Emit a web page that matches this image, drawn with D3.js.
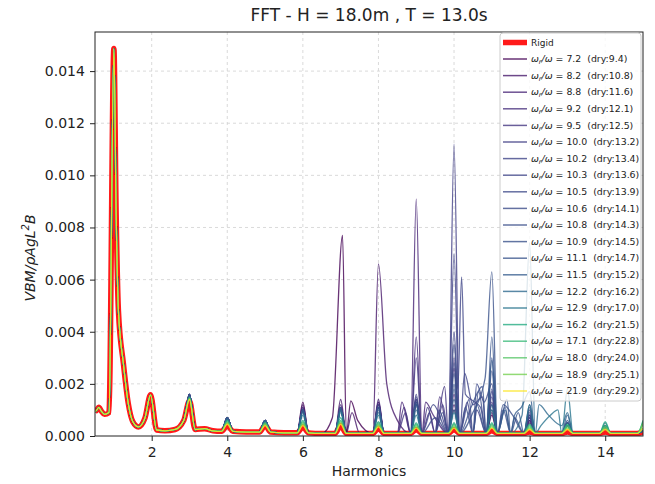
<!DOCTYPE html>
<html><head><meta charset="utf-8">
<script src="https://cdn.jsdelivr.net/npm/d3@7"></script>
<style>
body{margin:0;background:#fff}
text{font-family:"DejaVu Sans",sans-serif;white-space:pre}
</style>
</head><body>
<svg id="chart" width="655" height="484"></svg>
<script>
// ---------- data ----------
const titleText = "FFT - H = 18.0m , T = 13.0s";
const xLabelText = "Harmonics";
const xTicks = [2, 4, 6, 8, 10, 12, 14];
const yTicks = [0, 0.002, 0.004, 0.006, 0.008, 0.010, 0.012, 0.014];

const omegaRatio = [7.2, 8.2, 8.8, 9.2, 9.5, 10.0, 10.2, 10.3, 10.5, 10.6, 10.8, 10.9, 11.1, 11.5, 12.2, 12.9, 16.2, 17.1, 18.0, 18.9, 21.9];
const dryRatio   = [9.4, 10.8, 11.6, 12.1, 12.5, 13.2, 13.4, 13.6, 13.9, 14.1, 14.3, 14.5, 14.7, 15.2, 16.2, 17.0, 21.5, 22.8, 24.0, 25.1, 29.2];

// low-frequency part shared by every curve (harmonic, value)
const lowX = [0.5, 0.55, 0.6, 0.67, 0.75, 0.87, 1.0, 1.06, 1.12, 1.25, 1.38, 1.5, 1.65, 1.82, 1.97];
const lowY = [0.00093, 0.0010, 0.0011, 0.00095, 0.00083, 0.0009, 0.01487, 0.0085, 0.0048, 0.0028, 0.00125, 0.00055, 0.00035, 0.00068, 0.00158];

// troughs between harmonics shared by every curve
const valleyX = [2.13, 2.35, 2.62, 2.85, 3.15, 3.4, 3.62, 3.85, 4.15, 4.5, 4.85, 5.15, 5.5, 5.85, 6.15, 6.5, 6.85, 7.15, 7.5, 7.85, 8.15, 8.5, 8.85, 9.15, 9.5, 9.85, 10.15, 10.5, 10.85, 11.15, 11.5, 11.85, 12.15, 12.5, 12.85, 13.15, 13.5, 13.85, 14.15, 14.5, 14.85];
const valleyY = [0.00023, 0.0002, 0.00025, 0.0006, 0.00025, 0.00028, 0.0002, 0.00018, 0.00018, 0.00015, 0.00015, 0.00015, 0.00012, 0.00012, 0.00012, 0.0001, 0.0001, 0.0001, 0.0001, 0.0001, 0.0001, 0.0001, 0.0001, 0.0001, 0.0001, 0.0001, 0.0001, 0.0001, 0.0001, 0.0001, 0.0001, 0.0001, 0.0001, 0.0001, 0.0001, 0.0001, 0.0001, 0.0001, 0.0001, 0.0001, 0.0001];

// peak heights at harmonics 3..15
const peakHarmonics = [3, 4, 5, 6, 7, 8, 9, 10, 11, 12, 13, 14, 15];
const rigidPeaks = [0.00135, 0.0004, 0.0004, 0.00035, 0.0004, 0.0003, 0.00025, 0.00025, 0.0002, 0.00015, 0.00015, 0.00015, 0.00015];

const peaks_7_2  = [0.0016, 0.0007, 0.0006, 0.0013, null, 0.0013, 0.0012, 0.0010, 0.0008, 0.0005, 0.0004, 0.0003, 0.0002];
const peaks_8_2  = [0.0016, 0.0007, 0.0006, 0.0012, 0.0014, 0.0066, 0.0014, 0.0012, 0.0009, 0.0006, 0.0004, 0.0003, 0.0002];
const peaks_8_8  = [0.0016, 0.0007, 0.0006, 0.0011, 0.0012, 0.0014, 0.0091, 0.0016, 0.0010, 0.0006, 0.0004, 0.0003, 0.0002];
const peaks_9_2  = [0.0016, 0.0007, 0.0006, 0.0011, 0.0011, 0.0013, 0.0038, 0.0026, 0.0012, 0.0006, 0.0004, 0.0003, 0.0002];
const peaks_9_5  = [0.0016, 0.0007, 0.0006, 0.0010, 0.0011, 0.0012, 0.0030, 0.0030, 0.0013, 0.0007, 0.0004, 0.0003, 0.0002];
const peaks_10_0 = [0.0016, 0.0007, 0.0006, 0.0010, 0.0011, 0.0012, 0.0016, 0.0112, 0.0015, 0.0007, 0.0004, 0.0003, 0.0002];
const peaks_10_2 = [0.0016, 0.0007, 0.0006, 0.0010, 0.0010, 0.0012, 0.0015, 0.0070, 0.0017, 0.0008, 0.0005, 0.0003, 0.0002];
const peaks_10_3 = [0.0016, 0.0007, 0.0006, 0.0010, 0.0010, 0.0011, 0.0014, 0.0040, 0.0018, 0.0008, 0.0005, 0.0003, 0.0002];
const peaks_10_5 = [0.0016, 0.0007, 0.0006, 0.0010, 0.0010, 0.0011, 0.0013, 0.0028, 0.0020, 0.0008, 0.0005, 0.0003, 0.0002];
const peaks_10_6 = [0.0016, 0.0007, 0.0006, 0.0010, 0.0010, 0.0011, 0.0013, 0.0035, 0.0025, 0.0009, 0.0005, 0.0003, 0.0002];
const peaks_10_8 = [0.0016, 0.0007, 0.0006, 0.0010, 0.0010, 0.0011, 0.0013, 0.0024, 0.0030, 0.0010, 0.0005, 0.0003, 0.0002];
const peaks_10_9 = [0.0016, 0.0007, 0.0006, 0.0010, 0.0010, 0.0011, 0.0012, 0.0020, 0.0063, 0.0011, 0.0005, 0.0003, 0.0002];
const peaks_11_1 = [0.0016, 0.0007, 0.0006, 0.0010, 0.0010, 0.0011, 0.0012, 0.0018, 0.0038, 0.0012, 0.0006, 0.0004, 0.0002];
const peaks_11_5 = [0.0015, 0.0007, 0.0006, 0.0010, 0.0011, 0.0010, 0.0012, 0.0014, 0.0029, 0.0017, 0.0008, 0.0004, 0.0002];
const peaks_12_2 = [0.0015, 0.00065, 0.0006, 0.0009, 0.0010, 0.0009, 0.0010, 0.0010, 0.0012, 0.0074, 0.0009, 0.0004, 0.0002];
const peaks_12_9 = [0.0015, 0.0006, 0.00055, 0.0008, 0.0009, 0.0008, 0.0008, 0.0009, 0.0010, 0.0012, 0.0018, 0.0005, 0.0003];
const peaks_16_2 = [0.00148, 0.0006, 0.0005, 0.0006, 0.0007, 0.00055, 0.0005, 0.0005, 0.0005, 0.00045, 0.00045, 0.00055, 0.0006];
const peaks_17_1 = [0.00146, 0.00055, 0.0005, 0.00055, 0.0006, 0.0005, 0.00045, 0.00045, 0.00045, 0.0004, 0.0004, 0.0004, 0.00055];
const peaks_18_0 = [0.00144, 0.0005, 0.00045, 0.0005, 0.00055, 0.00045, 0.0004, 0.0004, 0.0004, 0.00035, 0.00035, 0.00035, 0.0005];
const peaks_18_9 = [0.00142, 0.0005, 0.00045, 0.00045, 0.0005, 0.0004, 0.00035, 0.00035, 0.00035, 0.0003, 0.0003, 0.0003, 0.00045];
const peaks_21_9 = [0.0014, 0.00045, 0.0004, 0.0004, 0.00045, 0.00035, 0.0003, 0.0003, 0.0003, 0.00025, 0.00025, 0.00025, 0.0003];

// extra points (harmonic, value) off the integer harmonics
const extra_7_2  = [[6.78, 0.0007], [7.05, 0.0077], [7.27, 0.00135], [7.45, 0.0006]];
const extra_8_2  = [[7.3, 0.0009], [8.22, 0.0020], [8.5, 0.0006]];
const extra_8_8  = [[8.62, 0.0013], [9.25, 0.0013], [9.45, 0.0008]];
const extra_9_2  = [[8.68, 0.0011], [9.35, 0.0009], [9.62, 0.0015]];
const extra_9_5  = [[8.72, 0.0009], [9.3, 0.0011], [9.75, 0.0019]];
const extra_10_0 = [[9.7, 0.0012], [10.35, 0.0013], [10.6, 0.0010]];
const extra_10_2 = [[9.6, 0.0010], [10.28, 0.0024], [10.5, 0.0012], [10.75, 0.0015]];
const extra_10_3 = [[9.45, 0.0012], [10.1, 0.0018], [10.2, 0.0061], [10.3, 0.0016], [10.45, 0.0014], [10.7, 0.0011]];
const extra_10_5 = [[9.5, 0.0007], [10.4, 0.0014], [10.6, 0.0020], [10.8, 0.0013]];
const extra_10_6 = [[9.7, 0.0009], [10.3, 0.0011], [10.65, 0.0017], [11.3, 0.0010]];
const extra_10_8 = [[10.45, 0.0011], [10.75, 0.0019], [11.3, 0.0012], [11.55, 0.0008]];
const extra_10_9 = [[10.5, 0.0009], [10.82, 0.0022], [11.35, 0.0011], [11.6, 0.0007]];
const extra_11_1 = [[10.6, 0.0012], [11.4, 0.0014], [11.7, 0.0009]];
const extra_11_5 = [[11.35, 0.0010], [11.6, 0.0008], [11.78, 0.0011]];
const extra_12_2 = [[11.8, 0.0008], [12.25, 0.0012], [12.5, 0.0008], [12.85, 0.0004]];
const extra_12_9 = [[12.3, 0.0004], [12.55, 0.0008], [12.75, 0.0010]];
const extra_none = [];

const seriesPeaks = [peaks_7_2, peaks_8_2, peaks_8_8, peaks_9_2, peaks_9_5, peaks_10_0, peaks_10_2, peaks_10_3, peaks_10_5, peaks_10_6, peaks_10_8, peaks_10_9, peaks_11_1, peaks_11_5, peaks_12_2, peaks_12_9, peaks_16_2, peaks_17_1, peaks_18_0, peaks_18_9, peaks_21_9];
const seriesExtras = [extra_7_2, extra_8_2, extra_8_8, extra_9_2, extra_9_5, extra_10_0, extra_10_2, extra_10_3, extra_10_5, extra_10_6, extra_10_8, extra_10_9, extra_11_1, extra_11_5, extra_12_2, extra_12_9, extra_none, extra_none, extra_none, extra_none, extra_none];

// ---------- build point lists from the read values ----------
function buildCurve(peaks, extras) {
  const pts = lowX.map((x, i) => [x, lowY[i]]);
  valleyX.forEach((x, i) => {
    if (!extras.some(e => Math.abs(e[0] - x) < 0.08)) pts.push([x, valleyY[i]]);
  });
  peakHarmonics.forEach((h, i) => {
    if (peaks[i] != null && !extras.some(e => Math.abs(e[0] - h) < 0.04)) pts.push([h, peaks[i]]);
  });
  extras.forEach(e => pts.push(e));
  return pts.sort((a, b) => a[0] - b[0]);
}

// ---------- layout ----------
const svg = d3.select("#chart");
const m = {l: 95, r: 643, t: 32, b: 436};
const x = d3.scaleLinear().domain([0.5, 15]).range([m.l, m.r]);
const y = d3.scaleLinear().domain([0, 0.0155]).range([m.b, m.t]);
const colorOf = d3.scaleSequential(d3.interpolateViridis).domain([7.2, 21.9]);

svg.append("defs").append("clipPath").attr("id", "clip")
  .append("rect").attr("x", m.l).attr("y", m.t).attr("width", m.r - m.l).attr("height", m.b - m.t);

// grid
const grid = svg.append("g");
grid.selectAll(".gx").data(xTicks).join("line")
  .attr("x1", d => x(d)).attr("x2", d => x(d)).attr("y1", m.t).attr("y2", m.b)
  .attr("stroke", "#d0d0d0").attr("stroke-width", 0.8).attr("stroke-dasharray", "3,3");
grid.selectAll(".gy").data(yTicks.slice(1)).join("line")
  .attr("x1", m.l).attr("x2", m.r).attr("y1", d => y(d)).attr("y2", d => y(d))
  .attr("stroke", "#d0d0d0").attr("stroke-width", 0.8).attr("stroke-dasharray", "3,3");

const line = d3.line().curve(d3.curveMonotoneX).x(d => x(d[0])).y(d => y(d[1]));
const plot = svg.append("g").attr("clip-path", "url(#clip)");

// rigid
plot.append("path").datum(buildCurve(rigidPeaks, extra_none))
  .attr("d", line).attr("fill", "none").attr("stroke", "#ff1a1a")
  .attr("stroke-width", 5.5).attr("stroke-linejoin", "round");

// flexible
omegaRatio.forEach((w, i) => {
  plot.append("path").datum(buildCurve(seriesPeaks[i], seriesExtras[i]))
    .attr("d", line).attr("fill", "none").attr("stroke", colorOf(w))
    .attr("stroke-opacity", 0.8).attr("stroke-width", 1.3).attr("stroke-linejoin", "round");
});

// axes
const xAxis = svg.append("g").attr("transform", `translate(0,${m.b})`)
  .call(d3.axisBottom(x).tickValues(xTicks).tickFormat(d3.format("d")).tickSize(5).tickSizeOuter(0));
const yAxis = svg.append("g").attr("transform", `translate(${m.l},0)`)
  .call(d3.axisLeft(y).tickValues(yTicks).tickFormat(d3.format(".3f")).tickSize(5).tickSizeOuter(0));
[xAxis, yAxis].forEach(a => {
  a.select(".domain").remove();
  a.selectAll("text").attr("font-family", "DejaVu Sans").attr("font-size", 14).attr("fill", "#222");
  a.selectAll("line").attr("stroke", "#222");
});
xAxis.selectAll("text").attr("dy", "0.95em");
yAxis.selectAll("text").attr("dx", "-0.15em");

svg.append("rect").attr("x", m.l).attr("y", m.t).attr("width", m.r - m.l).attr("height", m.b - m.t)
  .attr("fill", "none").attr("stroke", "#222").attr("stroke-width", 1);

// title & labels
svg.append("text").attr("x", (m.l + m.r) / 2).attr("y", 21).attr("text-anchor", "middle")
  .attr("font-size", 17).attr("fill", "#222").text(titleText);
svg.append("text").attr("x", (m.l + m.r) / 2).attr("y", 476).attr("text-anchor", "middle")
  .attr("font-size", 14).attr("fill", "#222").text(xLabelText);
const yl = svg.append("text").attr("transform", "translate(35,258) rotate(-90)")
  .attr("text-anchor", "middle").attr("font-size", 14).attr("font-style", "italic").attr("fill", "#222");
yl.append("tspan").text("VBM/ρAgL");
yl.append("tspan").attr("font-size", 10).attr("dy", -6).text("2");
yl.append("tspan").attr("dy", 6).text("B");

// legend
const lg = svg.append("g");
const lgX = 500, lgY = 33, lgW = 141, rowH = 16.6;
lg.append("rect").attr("x", lgX).attr("y", lgY).attr("width", lgW).attr("height", 368)
  .attr("rx", 3).attr("fill", "#fff").attr("fill-opacity", 0.8).attr("stroke", "#ccc");
lg.append("line").attr("x1", lgX + 3).attr("x2", lgX + 27).attr("y1", 42.5).attr("y2", 42.5)
  .attr("stroke", "#ff1a1a").attr("stroke-width", 5.5);
lg.append("text").attr("x", lgX + 31).attr("y", 42.5).attr("dy", "0.35em").attr("font-size", 9).attr("fill", "#222").text("Rigid");
omegaRatio.forEach((w, i) => {
  const yy = 59 + i * rowH;
  lg.append("line").attr("x1", lgX + 3).attr("x2", lgX + 27).attr("y1", yy).attr("y2", yy)
    .attr("stroke", colorOf(w)).attr("stroke-opacity", 0.8).attr("stroke-width", 1.5);
  const t = lg.append("text").attr("x", lgX + 31).attr("y", yy).attr("dy", "0.35em")
    .attr("font-size", 9.4).attr("fill", "#222");
  t.append("tspan").attr("font-style", "italic").text("ω");
  t.append("tspan").attr("font-style", "italic").attr("font-size", 6.5).attr("dy", 2).text("r");
  t.append("tspan").attr("font-style", "italic").attr("dy", -2).text("/ω");
  t.append("tspan").text(` = ${w.toFixed(1)}  (dry:${dryRatio[i].toFixed(1)})`);
});
</script>
</body></html>
